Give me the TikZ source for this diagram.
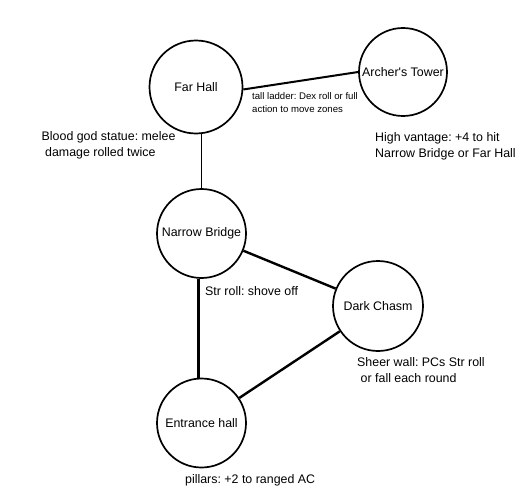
\documentclass[tikz,border=0pt]{standalone}
\usepackage{fontspec}
\setmainfont{Liberation Sans}
\frenchspacing
\begin{document}
\begin{tikzpicture}[x=1pt,y=1pt,
  zone/.style={draw=black,circle,line width=1.7pt,inner sep=0pt,font=\fontsize{12.4}{16}\selectfont},
  note/.style={anchor=base west,inner sep=0pt,align=left,font=\fontsize{12.4}{16}\selectfont},
  smallnote/.style={anchor=base west,inner sep=0pt,align=left,font=\fontsize{9.6}{13}\selectfont},
  thick link/.style={draw=black,line width=2.4pt},
  mid link/.style={draw=black,line width=2pt},
  thin link/.style={draw=black,line width=1.1pt}]
\useasboundingbox[fill=white] (0,0) rectangle (519,-500);
\node[zone,minimum size=93pt] (FH) at (196,-87) {Far Hall};
\node[zone,minimum size=88pt] (AT) at (403,-72) {Archer\textquotesingle s Tower};
\node[zone,minimum size=89pt] (NB) at (201.5,-233.5) {Narrow Bridge};
\node[zone,minimum size=90pt] (DC) at (378,-306) {Dark Chasm};
\node[zone,minimum size=89pt] (EH) at (201.5,-423) {Entrance hall};
\draw[mid link] (FH.-3) -- (AT.180);
\draw[thin link] (NB.north) -- (NB.north |- FH.south);
\draw[thick link] ([xshift=-3pt]NB.south) -- ([xshift=-3pt]EH.north);
\draw[thick link] (NB) -- (DC);
\draw[thick link] (DC) -- (EH);
\node[smallnote] (ladder) at (252,-112.5) {tall ladder: Dex roll or full\\action to move zones};
\node[note] (statue) at (41.5,-156.5) {Blood god statue: melee\\\hspace*{3.5pt}damage rolled twice};
\node[note] (vantage) at (375,-157.5) {High vantage: +4 to hit\\Narrow Bridge or Far Hall};
\node[note] (shove) at (205,-295.5) {Str roll: shove off};
\node[note] (wall) at (357,-382.5) {Sheer wall: PCs Str roll\\\hspace*{3.5pt}or fall each round};
\node[note] (pillars) at (185,-483.5) {pillars: +2 to ranged AC};
\end{tikzpicture}
\end{document}
